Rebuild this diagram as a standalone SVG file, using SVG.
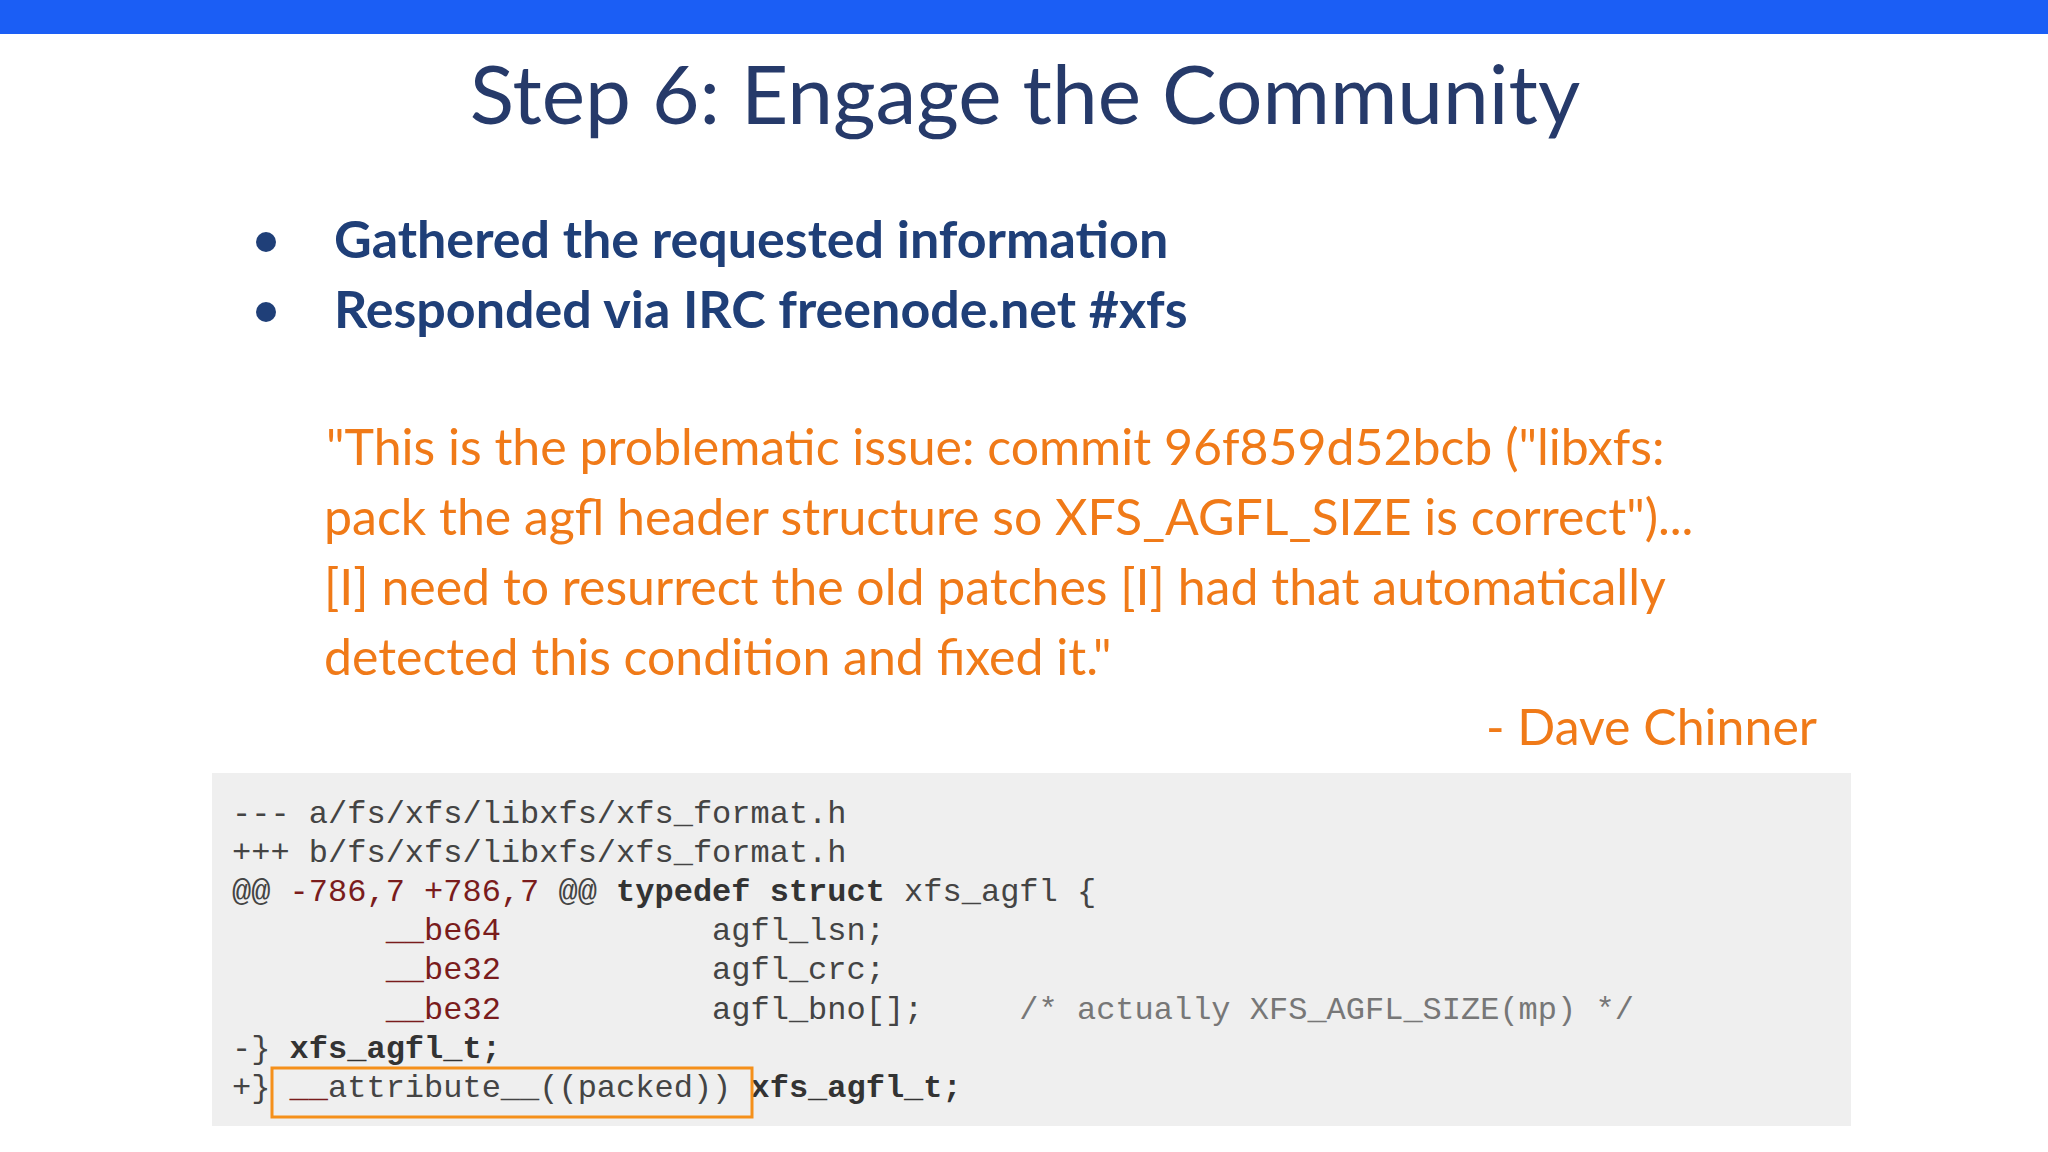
<svg xmlns="http://www.w3.org/2000/svg" width="2048" height="1152" viewBox="0 0 2048 1152">
<style>
.t{font-family:Lato,"Open Sans",sans-serif;fill:#263a6a}
.b{font-family:Lato,"Open Sans",sans-serif;font-weight:bold;font-size:52px;fill:#1f3f78}
.q{font-family:Lato,"Open Sans",sans-serif;font-size:50px;fill:#f07a18}
.c{font-family:"Liberation Mono","DejaVu Sans Mono",monospace;font-size:32px;fill:#444}
.r{fill:#7a1c1c}
.k{font-weight:bold;fill:#333}
.m{fill:#777}
</style>
<rect width="2048" height="1152" fill="#fff"/>
<rect width="2048" height="34" fill="#1b5ef5"/>
<g id="title"><text class="t" x="1025" y="124" font-size="82" text-anchor="middle">Step 6: Engage the Community</text></g>
<g id="bullets">
<circle cx="266" cy="242" r="10" fill="#1f3f78"/>
<circle cx="266" cy="312" r="10" fill="#1f3f78"/>
<text class="b" x="334" y="258">Gathered the requested information</text>
<text class="b" x="334" y="328">Responded via IRC freenode.net #xfs</text>
</g>
<g id="quote">
<text class="q" x="326" y="465">"This is the problematic issue: commit 96f859d52bcb ("libxfs:</text>
<text class="q" x="324" y="535">pack the agfl header structure so XFS_AGFL_SIZE is correct")...</text>
<text class="q" x="324" y="605">[I] need to resurrect the old patches [I] had that automatically</text>
<text class="q" x="324" y="675">detected this condition and fixed it."</text>
<text class="q" x="1817" y="745" text-anchor="end">- Dave Chinner</text>
</g>
<g id="code">
<rect x="212" y="773" width="1639" height="353" fill="#efefef"/>
<text class="c" xml:space="preserve" x="232" y="823">--- a/fs/xfs/libxfs/xfs_format.h</text>
<text class="c" xml:space="preserve" x="232" y="862">+++ b/fs/xfs/libxfs/xfs_format.h</text>
<text class="c" xml:space="preserve" x="232" y="901">@@ <tspan class="r">-786,7 +786,7</tspan> @@ <tspan class="k">typedef struct</tspan> xfs_agfl {</text>
<text class="c" xml:space="preserve" x="232" y="940">        <tspan class="r">__be64</tspan>           agfl_lsn;</text>
<text class="c" xml:space="preserve" x="232" y="979">        <tspan class="r">__be32</tspan>           agfl_crc;</text>
<text class="c" xml:space="preserve" x="232" y="1019">        <tspan class="r">__be32</tspan>           agfl_bno[];     <tspan class="m">/* actually XFS_AGFL_SIZE(mp) */</tspan></text>
<text class="c" xml:space="preserve" x="232" y="1058">-} <tspan class="k">xfs_agfl_t;</tspan></text>
<text class="c" xml:space="preserve" x="232" y="1097">+} <tspan class="r">__</tspan>attribute__((packed)) <tspan class="k">xfs_agfl_t;</tspan></text>
<rect x="272" y="1068" width="480" height="49" fill="none" stroke="#f5901a" stroke-width="3"/>
</g>
</svg>
